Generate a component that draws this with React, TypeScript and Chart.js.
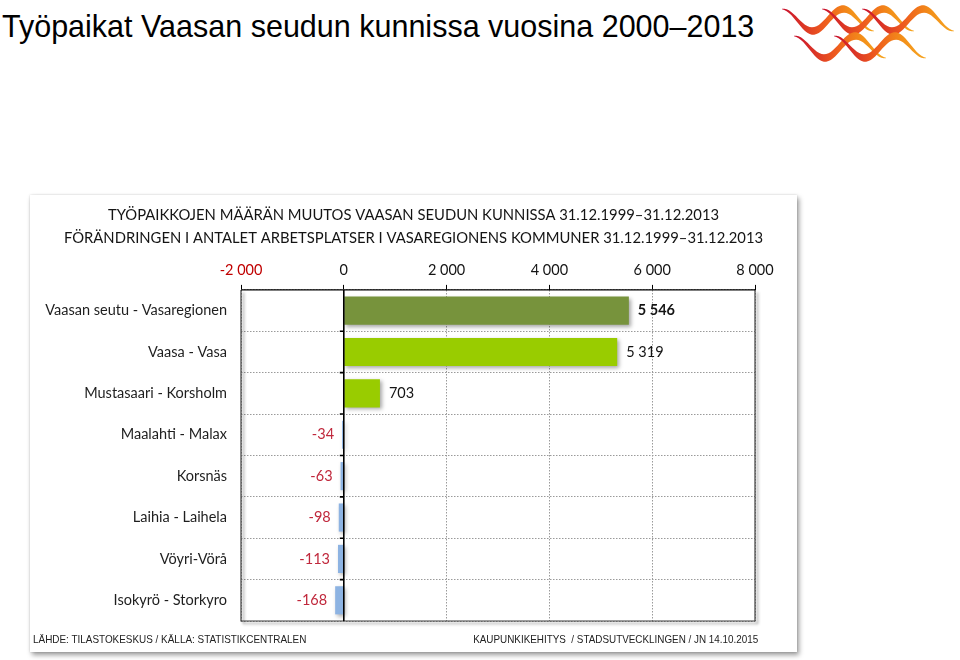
import React, { useEffect, useRef } from "react";
import { Chart, registerables } from "chart.js";

Chart.register(...registerables);

const categories = [
  "Vaasan seutu - Vasaregionen",
  "Vaasa - Vasa",
  "Mustasaari - Korsholm",
  "Maalahti - Malax",
  "Korsnäs",
  "Laihia - Laihela",
  "Vöyri-Vörå",
  "Isokyrö - Storkyro",
];
const changes = [5546, 5319, 703, -34, -63, -98, -113, -168];
const xMin = -2000;
const xMax = 8000;
const xStep = 2000;
const titleLines = [
  "TYÖPAIKKOJEN MÄÄRÄN MUUTOS VAASAN SEUDUN KUNNISSA 31.12.1999–31.12.2013",
  "FÖRÄNDRINGEN I ANTALET ARBETSPLATSER I VASAREGIONENS KOMMUNER 31.12.1999–31.12.2013",
];
const slideTitle = "Työpaikat Vaasan seudun kunnissa vuosina 2000–2013";
const sourceLeft = "LÄHDE: TILASTOKESKUS / KÄLLA: STATISTIKCENTRALEN";
const sourceRight = "KAUPUNKIKEHITYS  / STADSUTVECKLINGEN / JN 14.10.2015";

const FONT = "Lato, 'Open Sans', sans-serif";

function fmt(v: number): string {
  const s = Math.abs(Math.round(v)).toString().replace(/\B(?=(\d{3})+(?!\d))/g, " ");
  return (v < 0 ? "-" : "") + s;
}

const barColors = changes.map((v, i) => (i === 0 ? "#77933c" : v >= 0 ? "#99cc00" : "#8db3e2"));

const shadowPlugin = {
  id: "barShadow",
  beforeDatasetsDraw(chart: any) {
    const ctx = chart.ctx;
    ctx.save();
    ctx.shadowColor = "rgba(0,0,0,0.35)";
    ctx.shadowBlur = 4;
    ctx.shadowOffsetX = 2;
    ctx.shadowOffsetY = 2;
  },
  afterDatasetsDraw(chart: any) {
    chart.ctx.restore();
  },
};

const framePlugin = {
  id: "plotFrame",
  afterDatasetsDraw(chart: any) {
    const ctx = chart.ctx;
    const a = chart.chartArea;
    const xs = chart.scales.x;
    ctx.save();
    ctx.shadowColor = "rgba(0,0,0,0.45)";
    ctx.shadowBlur = 3;
    ctx.shadowOffsetX = 2.5;
    ctx.shadowOffsetY = 2.5;
    ctx.strokeStyle = "#404040";
    ctx.lineWidth = 1.2;
    ctx.beginPath();
    ctx.moveTo(a.left, a.top);
    ctx.lineTo(a.left, a.bottom);
    ctx.lineTo(a.right, a.bottom);
    ctx.lineTo(a.right, a.top);
    ctx.stroke();
    ctx.restore();

    ctx.save();
    ctx.strokeStyle = "#000";
    ctx.lineWidth = 1.2;
    ctx.beginPath();
    ctx.moveTo(a.left, a.top);
    ctx.lineTo(a.right, a.top);
    ctx.stroke();
    ctx.restore();

    const x0 = xs.getPixelForValue(0);
    ctx.save();
    ctx.strokeStyle = "#000";
    ctx.lineWidth = 1.6;
    ctx.beginPath();
    ctx.moveTo(x0, a.top);
    ctx.lineTo(x0, a.bottom);
    const n = categories.length;
    const step = (a.bottom - a.top) / n;
    for (let i = 1; i < n; i++) {
      const y = a.top + step * i;
      ctx.moveTo(x0 - 4, y);
      ctx.lineTo(x0, y);
    }
    ctx.stroke();
    ctx.restore();

    const meta = chart.getDatasetMeta(0);
    ctx.save();
    ctx.textBaseline = "middle";
    meta.data.forEach((el: any, i: number) => {
      const v = changes[i];
      ctx.font = (i === 0 ? "bold " : "") + "14.5px " + FONT;
      if (v >= 0) {
        ctx.fillStyle = "#141414";
        ctx.textAlign = "left";
        ctx.fillText(fmt(v), el.x + 9, el.y);
      } else {
        ctx.fillStyle = "#c0283c";
        ctx.textAlign = "right";
        ctx.fillText(fmt(v), el.x - 8, el.y);
      }
    });
    ctx.restore();
  },
};

function ribbon(x0: number, yc: number, L: number, A: number, T: number): string {
  const top: string[] = [];
  const bot: string[] = [];
  const N = 40;
  for (let k = 0; k <= N; k++) {
    const t = k / N;
    const x = x0 + L * t;
    const y = yc - A * Math.cos(3 * Math.PI * t);
    const th = T * Math.pow(Math.sin(Math.PI * t), 0.9) + 0.4;
    top.push(`${x.toFixed(2)},${(y - th / 2).toFixed(2)}`);
    bot.push(`${x.toFixed(2)},${(y + th / 2).toFixed(2)}`);
  }
  return "M " + top.join(" L ") + " L " + bot.reverse().join(" L ") + " Z";
}

function Logo() {
  const rows = [
    { yc: 20, xs: [2, 42, 82] },
    { yc: 47, xs: [14, 54] },
  ];
  return (
    <svg width={180} height={66} viewBox="0 0 180 66" style={{ position: "absolute", left: 780, top: 0 }}>
      <defs>
        <linearGradient id="lg" x1="0" y1="0" x2="1" y2="0">
          <stop offset="0" stopColor="#c8102e" />
          <stop offset="0.45" stopColor="#ee5a1e" />
          <stop offset="0.75" stopColor="#f39019" />
          <stop offset="1" stopColor="#f6a623" />
        </linearGradient>
      </defs>
      {rows.map((r, ri) =>
        r.xs.map((x, xi) => (
          <path key={ri + "-" + xi} d={ribbon(x, r.yc, 92, 11, 8)} fill="url(#lg)" />
        ))
      )}
    </svg>
  );
}

export default function App() {
  const ref = useRef<HTMLCanvasElement | null>(null);

  useEffect(() => {
    if (!ref.current) return;
    const chart = new Chart(ref.current, {
      type: "bar",
      data: {
        labels: categories,
        datasets: [
          {
            data: changes,
            backgroundColor: barColors,
            borderWidth: 0,
            barPercentage: 0.68,
            categoryPercentage: 1,
          },
        ],
      },
      options: {
        indexAxis: "y",
        animation: false,
        responsive: true,
        maintainAspectRatio: false,
        layout: { padding: { left: 0, right: 0, top: 0, bottom: 31 } },
        plugins: {
          legend: { display: false },
          tooltip: { enabled: false },
          title: {
            display: true,
            text: titleLines,
            color: "#141414",
            font: { family: FONT, size: 14.8, weight: "normal", lineHeight: 1.55 },
            padding: { top: 9, bottom: 0 },
          },
        },
        scales: {
          x: {
            position: "top",
            min: xMin,
            max: xMax,
            afterFit: (s: any) => {
              s.height = 40;
            },
            ticks: {
              stepSize: xStep,
              padding: 6,
              color: (c: any) => (c.tick && c.tick.value < 0 ? "#c00000" : "#141414"),
              font: { family: FONT, size: 14.5 },
              callback: (v: any) => fmt(Number(v)),
            },
            grid: {
              color: "#9a9a9a",
              tickColor: "#000",
              tickBorderDash: [],
              tickLength: 5,
              tickWidth: 1,
            },
            border: { display: false, dash: [1.5, 1.5] },
          },
          y: {
            afterFit: (s: any) => {
              s.width = 211;
            },
            ticks: {
              padding: 14,
              color: "#1e1e1e",
              font: { family: FONT, size: 14.5 },
            },
            grid: {
              color: "#9a9a9a",
              drawTicks: false,
            },
            border: { display: false, dash: [1.5, 1.5] },
          },
          spacer: {
            type: "linear",
            position: "right",
            axis: "y",
            afterFit: (s: any) => {
              s.width = 42;
            },
            ticks: { display: false },
            grid: { display: false, drawTicks: false },
            border: { display: false },
          },
        },
      },
      plugins: [shadowPlugin, framePlugin],
    } as any);
    return () => chart.destroy();
  }, []);

  const footStyle: any = {
    position: "absolute",
    top: 438,
    fontFamily: "'Liberation Sans Narrow', 'Liberation Sans', Arial, sans-serif",
    fontSize: 10.5,
    color: "#222",
    whiteSpace: "pre",
    lineHeight: "12px",
  };

  return (
    <div style={{ position: "fixed", left: 0, top: 0, width: 960, height: 660, background: "#fff", overflow: "hidden" }}>
      <div
        style={{
          position: "absolute",
          left: 2,
          top: 8,
          fontFamily: "'Liberation Sans', Arial, sans-serif",
          fontSize: 30.5,
          lineHeight: "36px",
          color: "#000",
          whiteSpace: "nowrap",
        }}
      >
        {slideTitle}
      </div>
      <Logo />
      <div
        style={{
          position: "absolute",
          left: 30,
          top: 195,
          width: 767,
          height: 457,
          background: "#fff",
          boxShadow: "2px 3px 5px rgba(0,0,0,0.4), 0 0 2px rgba(0,0,0,0.15)",
        }}
      >
        <canvas ref={ref} />
        <div style={{ ...footStyle, left: 3, transform: "scaleX(0.945)", transformOrigin: "left center" }}>
          {sourceLeft}
        </div>
        <div style={{ ...footStyle, right: 39, transform: "scaleX(0.94)", transformOrigin: "right center" }}>
          {sourceRight}
        </div>
      </div>
    </div>
  );
}
